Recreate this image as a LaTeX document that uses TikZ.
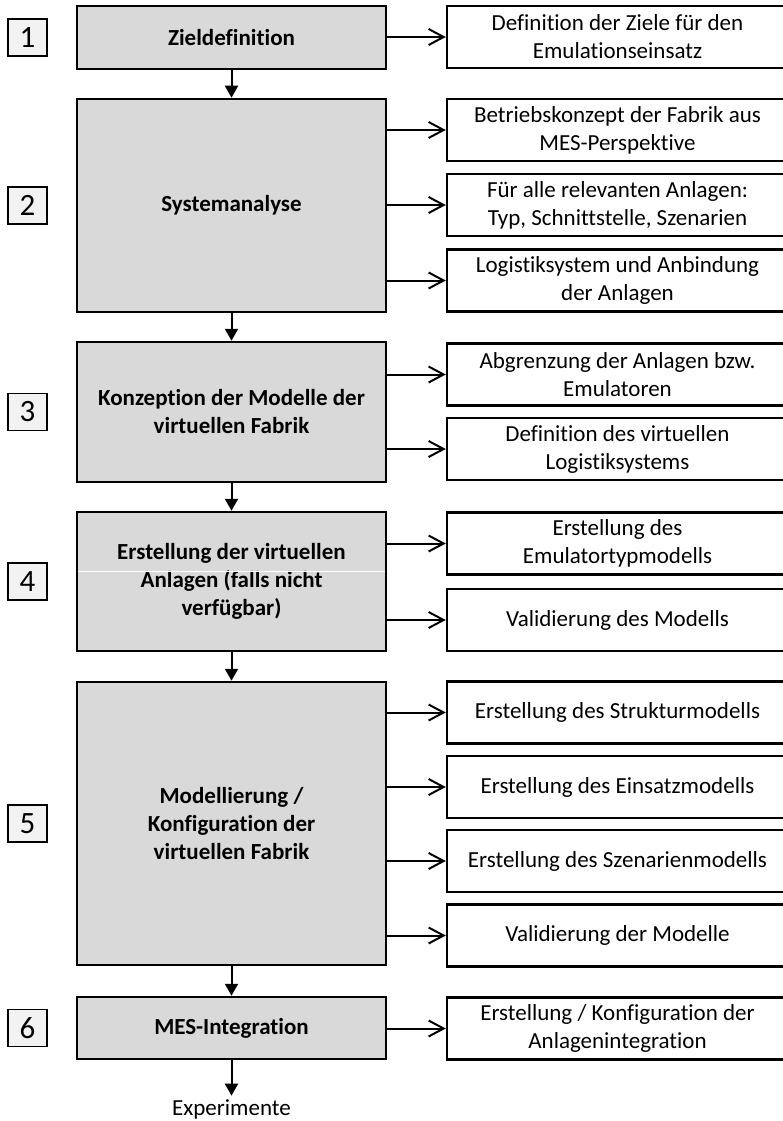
\documentclass[tikz,border=0pt]{standalone}
\usepackage{fontspec}
\setmainfont{Carlito}[Ligatures=NoCommon]
\usetikzlibrary{arrows.meta}

\definecolor{phasegray}{HTML}{D9D9D9}
\definecolor{numgray}{HTML}{F2F2F2}

\begin{document}
\begin{tikzpicture}[x=1pt, y=-1pt,
        phase/.style={draw, line width=2.5pt, fill=phasegray, minimum width=309pt, inner sep=0pt,
            align=center, font=\fontsize{23}{28}\selectfont\bfseries},
        task/.style={draw, line width=2.5pt, fill=white, minimum width=341pt, minimum height=62pt, inner sep=0pt,
            align=center, font=\fontsize{23}{28}\selectfont},
        num/.style={draw, line width=1.2pt, fill=numgray, minimum width=39pt, minimum height=37pt, inner sep=0pt,
            font=\fontsize{31}{31}\selectfont},
        down/.style={line width=2pt, -{Triangle[width=13pt, length=12pt]}},
        side/.style={line width=2pt, -{Straight Barb[width=16pt, length=15pt]}}]
    \useasboundingbox (0,0) rectangle (782,1121);

    \node[phase, minimum height=63pt] (g1) at (231.5,37.5) {Zieldefinition};
    \node[phase, minimum height=213pt] (g2) at (231.5,205.5) {Systemanalyse};
    \node[phase, minimum height=140pt] (g3) at (231.5,412) {Konzeption der Modelle der\\virtuellen Fabrik};
    \node[phase, minimum height=139pt] (g4) at (231.5,581.5) {Erstellung der virtuellen\\Anlagen (falls nicht\\verfügbar)};
    \node[phase, minimum height=283pt] (g5) at (231.5,823.5) {Modellierung /\\Konfiguration der\\virtuellen Fabrik};
    \node[phase, minimum height=62pt] (g6) at (231.5,1028) {MES-Integration};
    \node[font=\fontsize{23}{28}\selectfont, anchor=base] (exp) at (231.5,1115) {Experimente};

    \draw[white, line width=1pt] (78.4,571) -- (384.6,571);

    \node[num] (n1) at (27.5,37.5) {1};
    \node[num] (n2) at (27.5,205.5) {2};
    \node[num] (n3) at (27.5,412) {3};
    \node[num] (n4) at (27.5,581.5) {4};
    \node[num] (n5) at (27.5,823.5) {5};
    \node[num] (n6) at (27.5,1028) {6};

    \node[task] (t1) at (617.5,37) {Definition der Ziele für den\\Emulationseinsatz};
    \node[task] (t2a) at (617.5,130) {Betriebskonzept der Fabrik aus\\MES-Perspektive};
    \node[task] (t2b) at (617.5,205) {Für alle relevanten Anlagen:\\Typ, Schnittstelle, Szenarien};
    \node[task] (t2c) at (617.5,280.5) {Logistiksystem und Anbindung\\der Anlagen};
    \node[task] (t3a) at (617.5,374.5) {Abgrenzung der Anlagen bzw.\\Emulatoren};
    \node[task] (t3b) at (617.5,449) {Definition des virtuellen\\Logistiksystems};
    \node[task] (t4a) at (617.5,543.5) {Erstellung des\\Emulatortypmodells};
    \node[task] (t4b) at (617.5,620) {Validierung des Modells};
    \node[task] (t5a) at (617.5,712.5) {Erstellung des Strukturmodells};
    \node[task] (t5b) at (617.5,787) {Erstellung des Einsatzmodells};
    \node[task] (t5c) at (617.5,861) {Erstellung des Szenarienmodells};
    \node[task] (t5d) at (617.5,935.5) {Validierung der Modelle};
    \node[task] (t6) at (617.5,1028.5) {Erstellung / Konfiguration der\\Anlagenintegration};

    \draw[down] (g1) -- (g2);
    \draw[down] (g2) -- (g3);
    \draw[down] (g3) -- (g4);
    \draw[down] (g4) -- (g5);
    \draw[down] (g5) -- (g6);
    \draw[down] (g6) -- (exp);

    \draw[side] (g1.east |- t1.west) -- (t1.west);
    \foreach \t in {t2a,t2b,t2c}
        \draw[side] (g2.east |- \t.west) -- (\t.west);
    \foreach \t in {t3a,t3b}
        \draw[side] (g3.east |- \t.west) -- (\t.west);
    \foreach \t in {t4a,t4b}
        \draw[side] (g4.east |- \t.west) -- (\t.west);
    \foreach \t in {t5a,t5b,t5c,t5d}
        \draw[side] (g5.east |- \t.west) -- (\t.west);
    \draw[side] (g6.east |- t6.west) -- (t6.west);
\end{tikzpicture}
\end{document}
